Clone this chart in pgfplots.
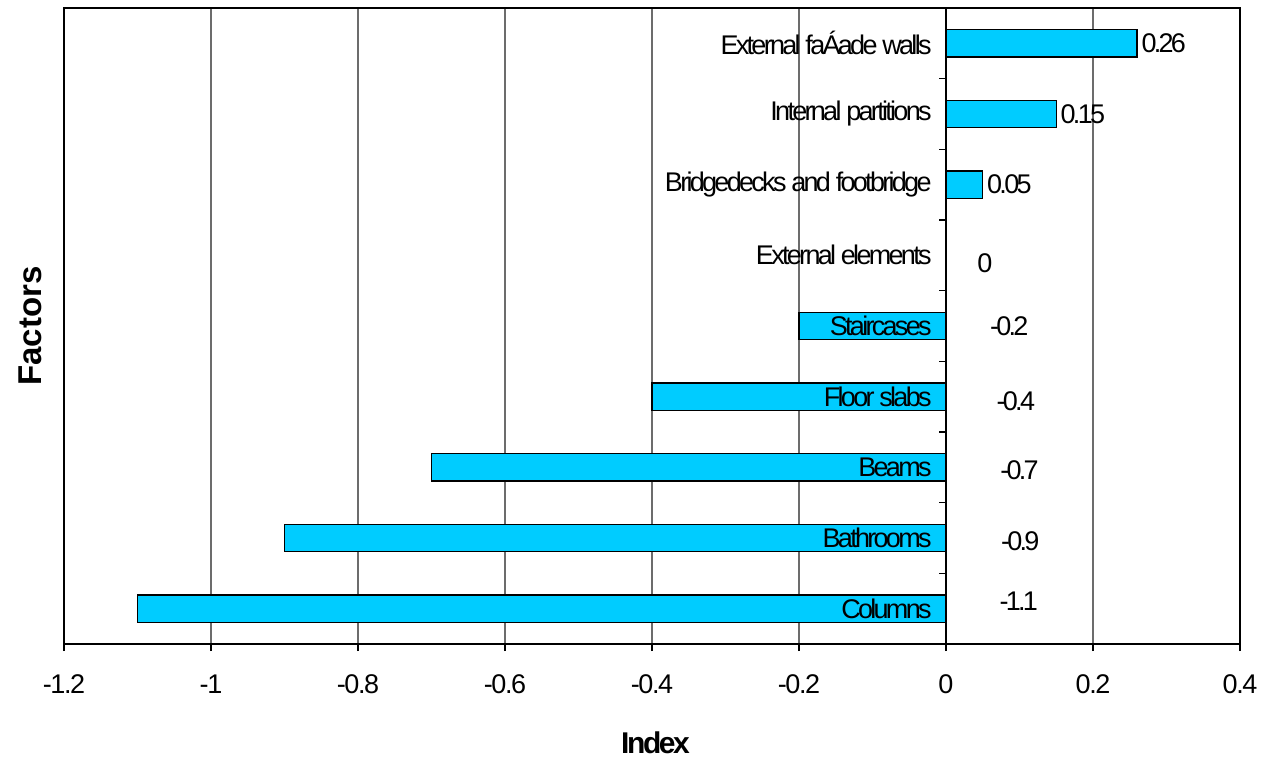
\documentclass[border=0pt]{standalone}
\usepackage{fontspec}
\setmainfont{Liberation Sans}
\newfontfamily\condfont{Liberation Sans}[LetterSpace=-10]
\newfontfamily\tickfont{Liberation Sans}[LetterSpace=-5]
\newfontfamily\labfont{Liberation Sans}[LetterSpace=-8]
\usepackage{pgfplots}
\usepackage{pgfplotstable}
\pgfplotsset{compat=1.18}
\definecolor{barcyan}{HTML}{00CCFF}

\pgfplotstableread[col sep=comma]{
y,v,name
8,0.26,External faÁade walls
7,0.15,Internal partitions
6,0.05,Bridgedecks and footbridge
5,0,External elements
4,-0.2,Staircases
3,-0.4,Floor slabs
2,-0.7,Beams
1,-0.9,Bathrooms
0,-1.1,Columns
}\bars

\pgfplotstableread[col sep=comma]{
x,y,label
0.26,8,0.26
0.15,7,0.15
0.05,6,0.05
}\poslabels

\pgfplotstableread[col sep=comma]{
x,y,label
0.053,4.89,0
0.086,4,-0.2
0.095,2.94,-0.4
0.100,1.96,-0.7
0.101,0.96,-0.9
0.099,0.11,-1.1
}\neglabels

\begin{document}
\begin{tikzpicture}
\begin{axis}[
  at={(0,0)}, anchor=south west,
  scale only axis,
  width=588pt, height=318pt,
  xmin=-1.2, xmax=0.4,
  ymin=-0.5, ymax=8.5,
  xtick={-1.2,-1,-0.8,-0.6,-0.4,-0.2,0,0.2,0.4},
  xticklabels={-1.2,-1,-0.8,-0.6,-0.4,-0.2,0,0.2,0.4},
  ytick=\empty,
  xtick pos=bottom,
  tick align=outside,
  major tick length=3.5pt,
  xmajorgrids,
  grid style={gray!85!black, line width=0.6pt},
  axis line style={black, line width=0.7pt},
  tick style={black, line width=0.6pt},
  xticklabel style={font=\fontsize{13.5}{16}\tickfont, yshift=-8.5pt},
  xlabel={Index},
  ylabel={Factors},
  xlabel style={at={(axis description cs:0.503,-0.1557)}, anchor=center, font=\fontsize{15}{18}\labfont\bfseries},
  ylabel style={at={(axis description cs:-0.0289,0.5)}, anchor=center, font=\fontsize{16.5}{19}\selectfont\bfseries},
  clip=false,
]
\addplot[xbar, bar shift=0pt, bar width=0.39, fill=barcyan, draw=black, line width=0.7pt]
  table[x=v, y=y] {\bars};
\draw[black, line width=0.7pt] (axis cs:0,-0.5) -- (axis cs:0,8.5);
\pgfplotsinvokeforeach{-0.5,0.5,1.5,2.5,3.5,4.5,5.5,6.5,7.5,8.5}{
  \draw[black, line width=0.6pt] (axis cs:0,#1) -- ([xshift=-3.5pt]axis cs:0,#1);
}
\addplot[draw=none, mark=none, nodes near coords, point meta=explicit symbolic,
  every node near coord/.style={anchor=east, inner sep=0pt, xshift=-7pt, font=\fontsize{13.5}{16}\condfont}]
  table[x expr=0, y=y, meta=name] {\bars};
\addplot[draw=none, mark=none, nodes near coords, point meta=explicit symbolic,
  every node near coord/.style={anchor=west, inner sep=0pt, xshift=2pt, font=\fontsize{13.5}{16}\condfont}]
  table[x=x, y=y, meta=label] {\poslabels};
\addplot[draw=none, mark=none, nodes near coords, point meta=explicit symbolic,
  every node near coord/.style={anchor=center, inner sep=0pt, font=\fontsize{13.5}{16}\condfont}]
  table[x=x, y=y, meta=label] {\neglabels};
\end{axis}
\useasboundingbox (-32pt,-59pt) rectangle (603pt,322pt);
\end{tikzpicture}
\end{document}
